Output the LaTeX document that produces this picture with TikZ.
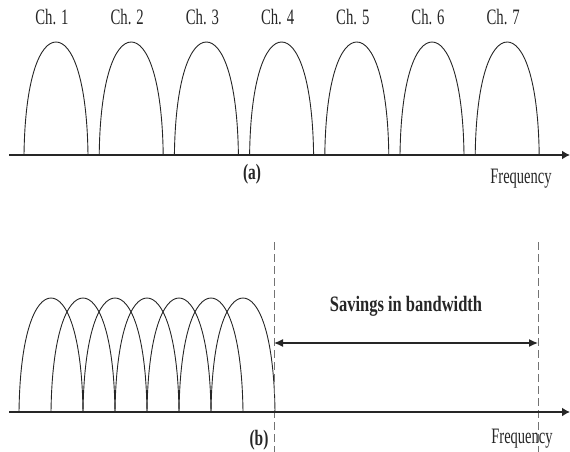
\documentclass[tikz,border=0pt]{standalone}
\usepackage{fontspec}
\setmainfont{Liberation Serif}
\usepackage{graphicx}
\usetikzlibrary{arrows.meta}
\newcommand\cond[2]{\scalebox{#1}[1]{#2}}
\tikzset{
  lobe/.style={draw=black!85, line width=0.9pt},
  axis/.style={draw=black!85, line width=1.6pt, -{Latex[length=8pt,width=9pt]}},
  guide/.style={draw=black!55, line width=1pt, dash pattern=on 8pt off 4pt},
  span/.style={draw=black!85, line width=1.3pt, {Latex[length=9pt,width=8pt]}-{Latex[length=9pt,width=8pt]}},
  lbl/.style={text=black!85, inner sep=0pt, anchor=base, font=\fontsize{22}{22}\selectfont},
  blbl/.style={lbl, font=\fontsize{22}{22}\selectfont\bfseries},
}
\newcommand\drawlobe[3]{% left x, base y, top y
  \draw[lobe] (#1,#2) .. controls ({#1+1},{#2-0.68*(#2-#3)}) and ({#1+16},#3) .. ({#1+32},#3)
    .. controls ({#1+48},#3) and ({#1+63},{#2-0.68*(#2-#3)}) .. ({#1+64},#2);}
\begin{document}
\begin{tikzpicture}[x=1pt,y=-1pt]
\useasboundingbox (0,0) rectangle (570,452);
% panel (a)
\coordinate (a0) at (9,155);
\coordinate (a1) at (570,155);
\foreach \i in {1,...,7}{
  \pgfmathsetmacro\xo{24+75.2*(\i-1)}
  \drawlobe{\xo}{155}{42}
  \node[lbl] (ch\i) at (\xo+28,25) {\cond{0.67}{Ch. \i}};
}
\draw[axis] (a0) -- (a1);
\node[blbl] (la) at (252,179) {\cond{0.7}{(a)}};
\node[lbl] (fa) at (521,183) {\cond{0.66}{Frequency}};
% panel (b)
\coordinate (b0) at (9,412);
\coordinate (b1) at (570,412);
\foreach \i in {1,...,7}{
  \pgfmathsetmacro\xo{19+32*(\i-1)}
  \drawlobe{\xo}{412}{298}
}
\coordinate (d1t) at (274,242);
\coordinate (d1b) at (274,452);
\coordinate (d2t) at (538,242);
\coordinate (d2b) at (538,452);
\draw[guide] (d1t) -- (d1b);
\draw[guide] (d2t) -- (d2b);
\draw[axis] (b0) -- (b1);
\coordinate (s1) at (274,343);
\coordinate (s2) at (538,343);
\draw[span] (s1) -- (s2);
\node[blbl] (sav) at (406,311) {\cond{0.75}{Savings in bandwidth}};
\node[blbl] (lb) at (259,445) {\cond{0.7}{(b)}};
\node[lbl] (fb) at (522,443) {\cond{0.66}{Frequency}};
\end{tikzpicture}
\end{document}
